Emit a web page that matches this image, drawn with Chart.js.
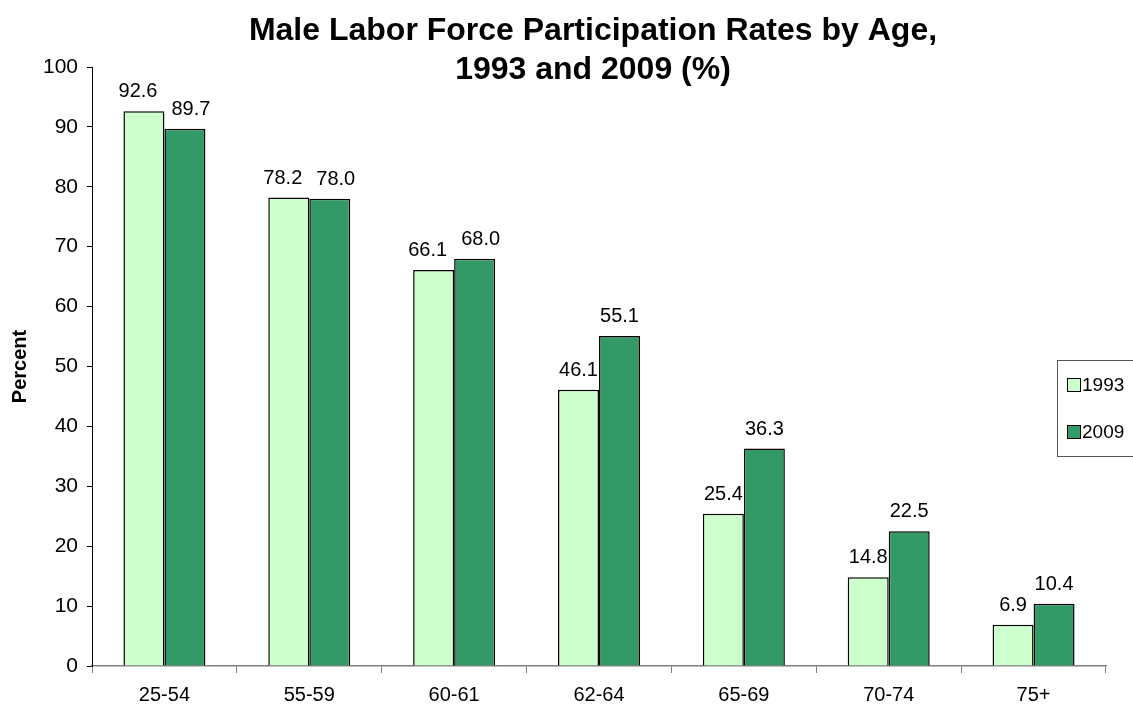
<!DOCTYPE html>
<html>
<head>
<meta charset="utf-8">
<script src="https://cdn.jsdelivr.net/npm/chart.js@4/dist/chart.umd.min.js"></script>
<style>
  html, body { margin: 0; padding: 0; background: #fff; }
  #wrap { width: 1133px; height: 707px; position: relative; }
</style>
</head>
<body>
<div id="wrap"><canvas id="laborChart"></canvas></div>
<script>
// Données du graphique
const ageGroups = ['25-54', '55-59', '60-61', '62-64', '65-69', '70-74', '75+'];
const rates1993 = [92.6, 78.2, 66.1, 46.1, 25.4, 14.8, 6.9];
const rates2009 = [89.7, 78.0, 68.0, 55.1, 36.3, 22.5, 10.4];
const yTicks = [0, 10, 20, 30, 40, 50, 60, 70, 80, 90, 100];
const titleLines = ['Male Labor Force Participation Rates by Age,', '1993 and 2009 (%)'];

const FONT = '"Liberation Sans", Arial, sans-serif';

// Titre dessiné à la main, sur deux lignes
const titlePlugin = {
    id: 'titleText',
    afterDraw(chart) {
        const ctx = chart.ctx;
        ctx.save();
        ctx.fillStyle = '#000';
        ctx.font = 'bold 32px ' + FONT;
        ctx.textAlign = 'center';
        ctx.textBaseline = 'alphabetic';
        ctx.fillText(titleLines[0], 593, 40);
        ctx.fillText(titleLines[1], 593, 79);
        ctx.restore();
    }
};

// Étiquettes de valeurs au-dessus des barres (écartées si elles se chevauchent)
const valueLabels = {
    id: 'valueLabels',
    afterDatasetsDraw(chart) {
        const ctx = chart.ctx;
        const gap = 14;
        ctx.save();
        ctx.fillStyle = '#000';
        ctx.font = '20px ' + FONT;
        ctx.textAlign = 'center';
        ctx.textBaseline = 'alphabetic';
        const metaA = chart.getDatasetMeta(0).data;
        const metaB = chart.getDatasetMeta(1).data;
        chart.data.labels.forEach((lab, j) => {
            const a = metaA[j], b = metaB[j];
            const ta = chart.data.datasets[0].data[j].toFixed(1);
            const tb = chart.data.datasets[1].data[j].toFixed(1);
            const wa = ctx.measureText(ta).width;
            const wb = ctx.measureText(tb).width;
            let xa = a.x, xb = b.x;
            const ya = a.y - 14, yb = b.y - 14;
            const overlapX = (xa + wa / 2 + gap) - (xb - wb / 2);
            if (Math.abs(ya - yb) < 20 && overlapX > 0) {
                xa -= overlapX / 2;
                xb += overlapX / 2;
            }
            ctx.fillText(ta, xa, ya);
            ctx.fillText(tb, xb, yb);
        });
        ctx.restore();
    }
};

// Légende encadrée à droite
const boxLegend = {
    id: 'boxLegend',
    afterDraw(chart) {
        const ctx = chart.ctx;
        ctx.save();
        ctx.fillStyle = '#fff';
        ctx.fillRect(1057.5, 360.5, 80, 96);
        ctx.strokeStyle = '#555';
        ctx.lineWidth = 1;
        ctx.strokeRect(1057.5, 360.5, 80, 96);
        ctx.font = '19px ' + FONT;
        ctx.textBaseline = 'middle';
        ctx.textAlign = 'left';
        const rows = [385, 432];
        chart.data.datasets.forEach((ds, i) => {
            const y = rows[i];
            ctx.fillStyle = ds.backgroundColor;
            ctx.fillRect(1067.5, y - 6.5, 13, 13);
            ctx.strokeStyle = '#000';
            ctx.strokeRect(1067.5, y - 6.5, 13, 13);
            ctx.fillStyle = '#000';
            ctx.fillText(ds.label, 1082, y + 1);
        });
        ctx.restore();
    }
};

const chart = new Chart(document.getElementById('laborChart'), {
    type: 'bar',
    data: {
        labels: ageGroups,
        datasets: [
            {
                label: '1993',
                data: rates1993,
                backgroundColor: '#CCFFCC',
                borderColor: '#000',
                borderWidth: 1.5
            },
            {
                label: '2009',
                data: rates2009,
                backgroundColor: '#339966',
                borderColor: '#000',
                borderWidth: 1.5
            }
        ]
    },
    options: {
        responsive: true,
        maintainAspectRatio: false,
        animation: false,
        layout: {
            padding: { top: 67, right: 27, left: 0, bottom: 0 }
        },
        plugins: {
            legend: { display: false },
            title: { display: false },
            tooltip: { enabled: false }
        },
        datasets: {
            bar: { categoryPercentage: 0.566, barPercentage: 1.0 }
        },
        scales: {
            x: {
                grid: {
                    offset: true,
                    drawOnChartArea: false,
                    color: '#808080',
                    tickLength: 7,
                    tickColor: '#808080'
                },
                border: { color: '#808080', width: 1.5 },
                ticks: {
                    color: '#000',
                    font: { family: FONT, size: 20 },
                    padding: 10
                },
                afterFit(scale) { scale.height = 41; }
            },
            y: {
                min: 0,
                max: 100,
                afterBuildTicks(scale) {
                    scale.ticks = yTicks.map(v => ({ value: v }));
                },
                grid: {
                    drawOnChartArea: false,
                    tickLength: 5,
                    tickColor: '#000'
                },
                border: { color: '#000', width: 1 },
                ticks: {
                    color: '#000',
                    font: { family: FONT, size: 21 },
                    padding: 9
                },
                title: {
                    display: true,
                    text: 'Percent',
                    color: '#000',
                    font: { family: FONT, size: 20, weight: 'bold' },
                    padding: { top: 8, bottom: 0 }
                },
                afterFit(scale) { scale.width = 92; }
            }
        }
    },
    plugins: [titlePlugin, valueLabels, boxLegend]
});
</script>
</body>
</html>
